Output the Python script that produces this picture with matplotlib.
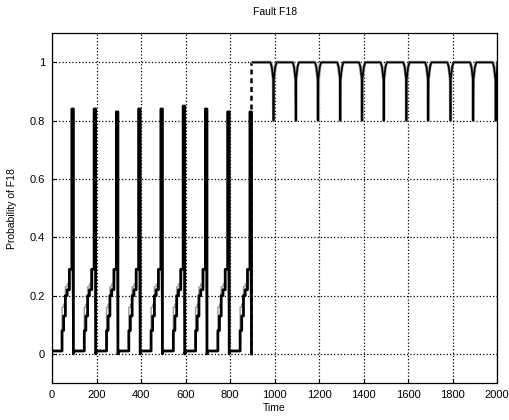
import numpy as np
import matplotlib
matplotlib.use("Agg")
import matplotlib.pyplot as plt

plt.rcParams['font.family'] = ['Liberation Sans', 'DejaVu Sans']

# --- data ---
cycle_starts = [0, 100, 200, 300, 400, 500, 600, 700, 800]
spike_peaks = [0.84, 0.84, 0.83, 0.84, 0.84, 0.85, 0.84, 0.83, 0.83]

# staircase inside one cycle (offset from cycle start, level)
stair_offsets = [45, 52, 60, 68, 78]
stair_black = [0.08, 0.13, 0.20, 0.22, 0.29]
stair_grey = [0.16, 0.17, 0.23, 0.24, 0.29]
spike_offset = 89
fall_offset = 96

switch_time = 902
dip_times = [995, 1095, 1195, 1295, 1393, 1490, 1592, 1690, 1790, 1892, 1993]
dip_depths = [0.80, 0.80, 0.80, 0.80, 0.80, 0.80, 0.80, 0.80, 0.80, 0.80, 0.80]
funnel_offsets = [-14, -8, -4, -1, 0, 1, 4, 8, 14]
funnel_levels = [1.0, 0.985, 0.96, 0.94, None, 0.94, 0.96, 0.985, 1.0]

xticks = [0, 200, 400, 600, 800, 1000, 1200, 1400, 1600, 1800, 2000]
yticks = [0, 0.2, 0.4, 0.6, 0.8, 1]


def build_cycle_line(levels, with_spike=True):
    t, p = [], []
    for c, peak in zip(cycle_starts, spike_peaks):
        t += [c, c + stair_offsets[0]]
        p += [0.01, 0.01]
        for i, off in enumerate(stair_offsets):
            end = stair_offsets[i + 1] if i + 1 < len(stair_offsets) else spike_offset
            t += [c + off, c + end]
            p += [levels[i], levels[i]]
        if with_spike:
            t += [c + spike_offset, c + fall_offset - 3, c + fall_offset, c + fall_offset]
            p += [peak, peak, peak, 0.0]
        else:
            t += [c + fall_offset]
            p += [0.0]
    return t, p


t_black, p_black = build_cycle_line(stair_black)
t_grey, p_grey = build_cycle_line(stair_grey, with_spike=False)

# after the fault: near 1 with periodic dips
t_hi, p_hi = [switch_time], [1.0]
for d, depth in zip(dip_times, dip_depths):
    for off, lev in zip(funnel_offsets, funnel_levels):
        t_hi.append(d + off)
        p_hi.append(depth if lev is None else lev)
t_hi.append(2000)
p_hi.append(1.0)
t_hi = np.clip(t_hi, 0, 2000)

fig = plt.figure(figsize=(5.1, 4.2), dpi=100)
ax = fig.add_axes([0.102, 0.088, 0.873, 0.833])

ax.plot(t_grey, p_grey, color='#9a9a9a', lw=1.0)
ax.plot(t_black, p_black, color='black', lw=2.0)
ax.plot([switch_time - 8, switch_time - 8], [0.0, 1.0], color='black', lw=1.8, ls=(0, (2, 1.5)))
ax.plot(t_hi, p_hi, color='#9a9a9a', lw=2.2)
ax.plot(t_hi, p_hi, color='black', lw=1.2)

ax.set_xlim(0, 2000)
ax.set_ylim(-0.1, 1.1)
ax.set_xticks(xticks)
ax.set_yticks(yticks)
ax.set_yticklabels(['0', '0.2', '0.4', '0.6', '0.8', '1'])
ax.grid(True, color='black', ls=':', lw=0.9)
ax.tick_params(direction='in', labelsize=8, length=3, pad=5)
for s in ax.spines.values():
    s.set_linewidth(0.9)

ax.set_title('Fault F18', fontsize=7.5, pad=13)
ax.set_xlabel('Time', fontsize=7.5, labelpad=2)
ax.set_ylabel('Probability of F18', fontsize=7.5, labelpad=9)

fig.savefig('out.png', dpi=100)
